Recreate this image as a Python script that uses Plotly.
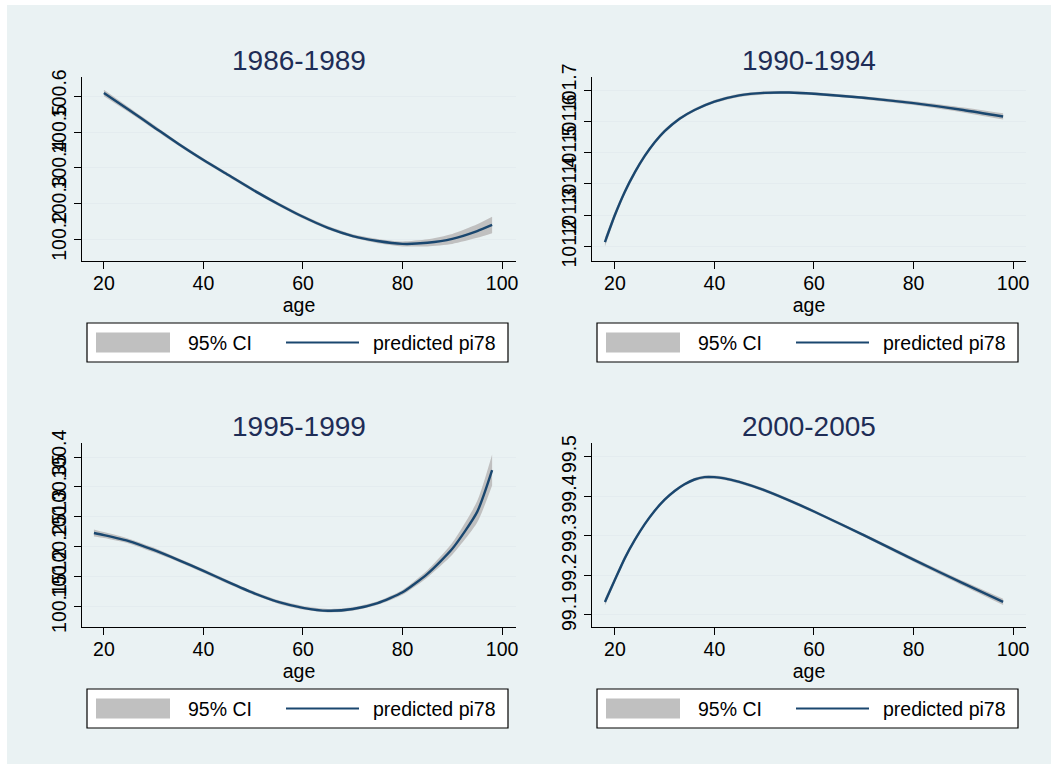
import plotly.graph_objects as go

W, H = 1058, 769

titles = ["1986-1989", "1990-1994", "1995-1999", "2000-2005"]

# Panel 1: 1986-1989
age1 = [20, 25, 30, 35, 40, 45, 50, 55, 60, 65, 70, 75, 80, 85, 90, 95, 98]
pred1 = [100.610, 100.563, 100.515, 100.467, 100.422, 100.380, 100.338, 100.299,
         100.263, 100.232, 100.209, 100.195, 100.187, 100.190, 100.201, 100.223, 100.240]
ci1 = [0.009, 0.007, 0.006, 0.005, 0.005, 0.005, 0.005, 0.005,
       0.005, 0.005, 0.005, 0.006, 0.007, 0.010, 0.014, 0.019, 0.023]

# Panel 2: 1990-1994
age2 = [18, 20, 22, 24, 26, 28, 30, 33, 36, 40, 45, 50, 55, 60, 70, 80, 90, 98]
pred2 = [101.213, 101.300, 101.375, 101.437, 101.490, 101.534, 101.570, 101.610, 101.638,
         101.665, 101.685, 101.693, 101.694, 101.690, 101.677, 101.660, 101.638, 101.617]
ci2 = [0.014, 0.011, 0.009, 0.008, 0.007, 0.006, 0.006, 0.005, 0.005,
       0.005, 0.005, 0.005, 0.005, 0.005, 0.005, 0.006, 0.008, 0.010]

# Panel 3: 1995-1999
age3 = [18, 20, 25, 30, 35, 40, 45, 50, 55, 60, 65, 70, 75, 80, 85, 90, 95, 98]
pred3 = [100.2725, 100.269, 100.259, 100.244, 100.227, 100.209, 100.190, 100.172, 100.157,
         100.147, 100.142, 100.145, 100.155, 100.173, 100.204, 100.246, 100.308, 100.378]
ci3 = [0.006, 0.005, 0.004, 0.004, 0.003, 0.003, 0.003, 0.003, 0.003,
       0.003, 0.003, 0.003, 0.003, 0.004, 0.006, 0.010, 0.018, 0.026]

# Panel 4: 2000-2005
age4 = [18, 20, 22, 24, 26, 28, 30, 32, 34, 36, 38, 40, 42, 45, 50, 55, 60, 70, 80, 90, 98]
pred4 = [99.133, 99.189, 99.244, 99.290, 99.330, 99.364, 99.392, 99.414, 99.431, 99.443,
         99.449, 99.449, 99.446, 99.437, 99.416, 99.390, 99.362, 99.302, 99.240, 99.180, 99.133]
ci4 = [0.009, 0.007, 0.006, 0.005, 0.005, 0.004, 0.004, 0.004, 0.004, 0.004,
       0.004, 0.004, 0.004, 0.004, 0.004, 0.004, 0.004, 0.004, 0.005, 0.006, 0.008]

xticks = [20, 40, 60, 80, 100]
yticks1 = [100.2, 100.3, 100.4, 100.5, 100.6]
ylabels1 = ["100.2", "100.3", "100.4", "100.5", "100.6"]
yticks2 = [101.2, 101.3, 101.4, 101.5, 101.6, 101.7]
ylabels2 = ["101.2", "101.3", "101.4", "101.5", "101.6", "101.7"]
yticks3 = [100.15, 100.2, 100.25, 100.3, 100.35, 100.4]
ylabels3 = ["100.15", "100.2", "100.25", "100.3", "100.35", "100.4"]
yticks4 = [99.1, 99.2, 99.3, 99.4, 99.5]
ylabels4 = ["99.1", "99.2", "99.3", "99.4", "99.5"]

legend_labels = ["95% CI", "predicted pi78"]

panels = [
    (age1, pred1, ci1, yticks1, ylabels1, [15.6, 102.8], [100.139, 100.655]),
    (age2, pred2, ci2, yticks2, ylabels2, [15.4, 102.6], [101.152, 101.744]),
    (age3, pred3, ci3, yticks3, ylabels3, [15.6, 102.8], [100.1148, 100.4235]),
    (age4, pred4, ci4, yticks4, ylabels4, [15.4, 102.6], [99.0696, 99.5354]),
]

boxes = [(82, 77, 516, 261), (592, 77, 1026, 261), (82, 443, 516, 627), (592, 443, 1026, 627)]

BG = "#EAF2F3"
NAVY = "#1A476F"
CIGRAY = "#C0C0C0"
FONT = "Liberation Sans, Arial, sans-serif"
FS = 19.5

fig = go.Figure()
layout = dict(
    width=W, height=H,
    margin=dict(l=0, r=0, t=0, b=0, pad=0, autoexpand=False),
    paper_bgcolor="white",
    plot_bgcolor="white",
    showlegend=False,
    font=dict(family=FONT, size=FS, color="black"),
    shapes=[dict(type="rect", xref="paper", yref="paper",
                 x0=7 / W, x1=1051 / W, y0=1 - 764 / H, y1=1 - 5 / H,
                 fillcolor=BG, line=dict(width=0), layer="below")],
    annotations=[],
)

for i, (ages, pred, ci, yt, yl, xr, yr) in enumerate(panels):
    n = i + 1
    xa = "x" if n == 1 else f"x{n}"
    ya = "y" if n == 1 else f"y{n}"
    lo = [p - c for p, c in zip(pred, ci)]
    hi = [p + c for p, c in zip(pred, ci)]
    fig.add_trace(go.Scatter(x=ages, y=lo, mode="lines", line=dict(width=0, color=CIGRAY, shape="spline", smoothing=0.6),
                             xaxis=xa, yaxis=ya, hoverinfo="skip", name=legend_labels[0]))
    fig.add_trace(go.Scatter(x=ages, y=hi, mode="lines", line=dict(width=0, color=CIGRAY, shape="spline", smoothing=0.6),
                             fill="tonexty", fillcolor=CIGRAY, xaxis=xa, yaxis=ya, name=legend_labels[0]))
    fig.add_trace(go.Scatter(x=ages, y=pred, mode="lines", line=dict(width=2.4, color=NAVY, shape="spline", smoothing=0.6),
                             xaxis=xa, yaxis=ya, name=legend_labels[1]))

    l, t, r, b = boxes[i]
    xkey = "xaxis" if n == 1 else f"xaxis{n}"
    ykey = "yaxis" if n == 1 else f"yaxis{n}"
    layout[xkey] = dict(domain=[l / W, r / W], range=xr, anchor=ya, automargin=False,
                        tickvals=xticks, ticks="outside", ticklen=7, tickwidth=1.2, tickcolor="black",
                        ticklabelstandoff=-3,
                        showline=True, linecolor="black", linewidth=1.3, showgrid=False, zeroline=False,
                        tickfont=dict(size=FS, family=FONT),
                        title=dict(text="age", font=dict(size=FS, family=FONT), standoff=0))
    layout[ykey] = dict(domain=[1 - b / H, 1 - t / H], range=yr, anchor=xa, automargin=False,
                        tickvals=yt, ticktext=yl, tickangle=-90,
                        ticks="outside", ticklen=7, tickwidth=1.2, tickcolor="black",
                        showline=True, linecolor="black", linewidth=1.3,
                        showgrid=True, gridcolor="#E4ECEF", gridwidth=1.2, zeroline=False,
                        tickfont=dict(size=FS, family=FONT))
    layout["annotations"].append(dict(text=titles[i], xref="paper", yref="paper",
                                      x=(l + r) / 2 / W, y=1 - (t - 17) / H, yanchor="middle",
                                      xanchor="center", showarrow=False,
                                      font=dict(size=28, family=FONT, color="#1E2D56")))
    lx0, lx1 = l + 5, r - 8
    ly0, ly1 = b + 62, b + 101
    cy = (ly0 + ly1) / 2
    layout["shapes"].append(dict(type="rect", xref="paper", yref="paper",
                                 x0=lx0 / W, x1=lx1 / W, y0=1 - ly1 / H, y1=1 - ly0 / H,
                                 fillcolor="white", line=dict(color="black", width=1.2)))
    layout["shapes"].append(dict(type="rect", xref="paper", yref="paper",
                                 x0=(lx0 + 9) / W, x1=(lx0 + 83) / W, y0=1 - (cy + 10) / H, y1=1 - (cy - 10) / H,
                                 fillcolor=CIGRAY, line=dict(width=0)))
    layout["shapes"].append(dict(type="line", xref="paper", yref="paper",
                                 x0=(lx0 + 199) / W, x1=(lx0 + 272) / W, y0=1 - cy / H, y1=1 - cy / H,
                                 line=dict(color=NAVY, width=2)))
    layout["annotations"].append(dict(text=legend_labels[0], xref="paper", yref="paper",
                                      x=(lx0 + 99) / W, y=1 - cy / H, xanchor="left", yanchor="middle",
                                      showarrow=False, font=dict(size=FS, family=FONT)))
    layout["annotations"].append(dict(text=legend_labels[1], xref="paper", yref="paper",
                                      x=(lx1 - 10) / W, y=1 - cy / H, xanchor="right", yanchor="middle",
                                      showarrow=False, font=dict(size=FS, family=FONT)))

fig.update_layout(**layout)
fig.write_html("out.html")
